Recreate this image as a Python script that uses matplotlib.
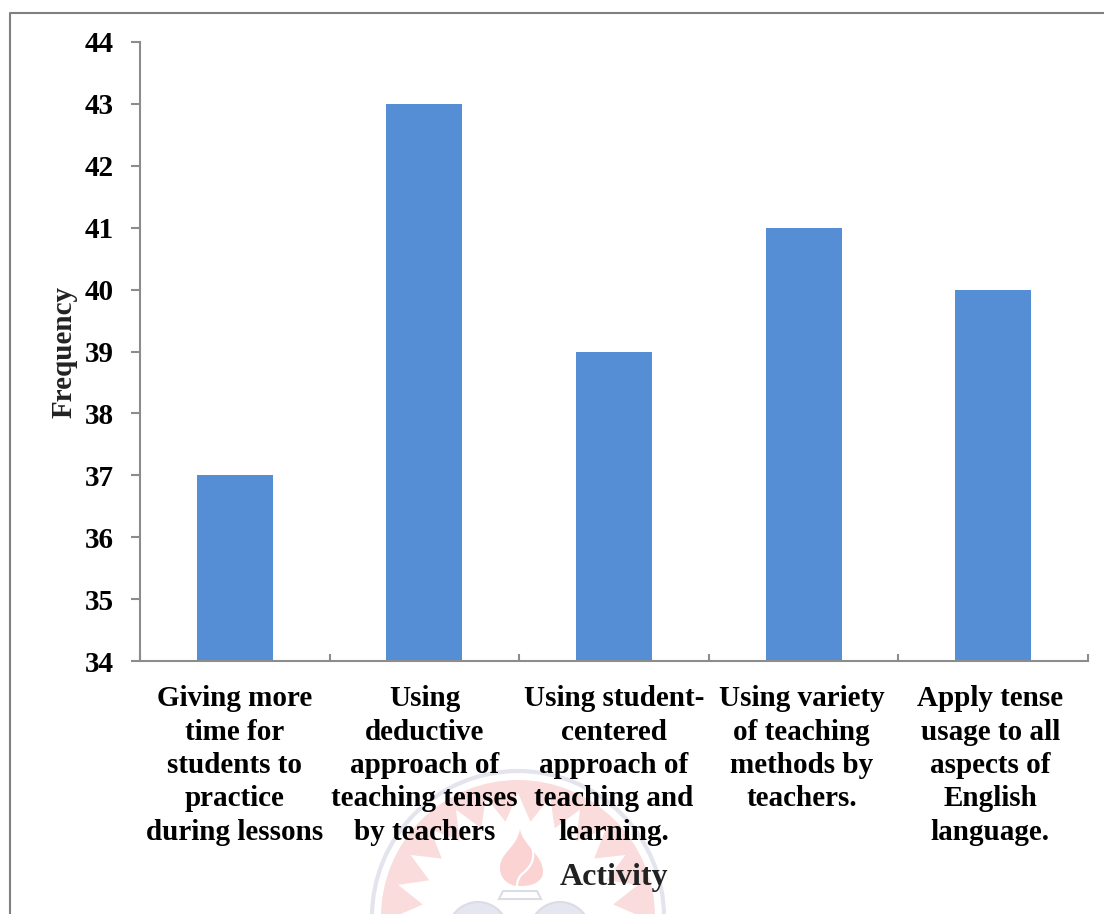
import numpy as np
import matplotlib
matplotlib.use('Agg')
import matplotlib.pyplot as plt
from matplotlib.patches import Circle, Polygon, PathPatch
from matplotlib.path import Path
from matplotlib.transforms import ScaledTranslation

activities = [
    'Giving more\ntime for\nstudents to\npractice\nduring lessons',
    'Using\ndeductive\napproach of\nteaching tenses\nby teachers',
    'Using student-\ncentered\napproach of\nteaching and\nlearning.',
    'Using variety\nof teaching\nmethods by\nteachers.',
    'Apply tense\nusage to all\naspects of\nEnglish\nlanguage.',
]
frequency = [37, 43, 39, 41, 40]
y_ticks = list(range(34, 45))

W, H = 1104, 914
GREY = '#8c8c8c'
BLUE = '#558ed5'

plt.rcParams['font.family'] = ['Liberation Serif', 'DejaVu Serif']
plt.rcParams['font.weight'] = 'bold'

fig = plt.figure(figsize=(W / 100, H / 100), dpi=100)

# background layer in pixel coordinates: page border and the faint seal
bg = fig.add_axes([0, 0, 1, 1], zorder=0)
bg.set_xlim(0, W)
bg.set_ylim(H, 0)
bg.axis('off')
bg.plot([10, 10, W], [H, 13, 13], color='#808080', lw=1.5, solid_capstyle='butt')

cx, cy, r = 518, 917, 146
bg.add_patch(Circle((cx, cy), r, fill=False, ec='#e4e4ee', lw=3))
bg.add_patch(Circle((cx, cy), r - 9, fc='#fbdcdc', ec='none'))

# white sunburst cut out of the pink disc, one spike every 15 degrees
n = 48
ang = np.linspace(0, 2 * np.pi, n, endpoint=False)
rad = np.where(np.arange(n) % 2 == 0, r - 22, r - 50)
star = np.column_stack([cx + rad * np.sin(ang), cy - rad * np.cos(ang)])
bg.add_patch(Polygon(star, closed=True, fc='white', ec='none'))

# flame and its white inner stroke
flame = Path(
    [(520, 829), (522, 845), (544, 855), (543, 873), (542, 882), (532, 886), (522, 886),
     (516, 886), (506, 884), (500, 877), (500, 868), (500, 852), (517, 848), (520, 829)],
    [Path.MOVETO] + [Path.CURVE4] * 6 + [Path.LINETO] + [Path.CURVE4] * 6,
)
bg.add_patch(PathPatch(flame, fc='#fbd3d3', ec='none'))
stroke = Path(
    [(530, 842), (538, 858), (530, 868), (522, 874), (519, 877), (517, 881), (517, 886)],
    [Path.MOVETO] + [Path.CURVE4] * 6,
)
bg.add_patch(PathPatch(stroke, fc='none', ec='white', lw=1.6))

# lamp under the flame
bg.add_patch(Polygon([(503, 891), (537, 891), (541, 899), (499, 899)],
                     closed=True, fc='none', ec='#dcdce6', lw=1.5))
bg.add_patch(Circle((478, 932), 30, fc='#e6e6f0', ec='#dcdce6', lw=1.5))
bg.add_patch(Circle((560, 932), 30, fc='#e6e6f0', ec='#dcdce6', lw=1.5))

# main chart
ax = fig.add_axes([140 / W, 1 - 661 / H, (1088 - 140) / W, (661 - 42) / H], zorder=1)
ax.patch.set_alpha(0)
x = np.arange(len(activities))
ax.bar(x, frequency, width=0.4, color=BLUE, zorder=2)

ax.set_xlim(-0.5, len(activities) - 0.5)
ax.set_ylim(34, 44)
ax.set_yticks(y_ticks)
ax.set_yticklabels(y_ticks, fontsize=21, fontweight='bold')

# ticks sit between the categories, labels under the bar centres
ax.set_xticks(np.arange(len(activities) + 1) - 0.5)
ax.set_xticklabels([])
ax.set_xticks(x, minor=True)
labels = ax.set_xticklabels(activities, minor=True, fontsize=21, fontweight='bold',
                            linespacing=1.30, ha='center', va='top')
ax.tick_params(axis='x', which='minor', length=0, pad=17.5)
ax.tick_params(axis='x', which='major', direction='in', length=5, color=GREY, width=1.5)
ax.tick_params(axis='y', direction='out', length=6.5, color=GREY, width=1.5, pad=12.5)

# the last two labels sit a little left of their bars
for lab, dx in zip(labels, [0, 0, 0, -2, -3]):
    lab.set_transform(lab.get_transform() + ScaledTranslation(dx / 100, 0, fig.dpi_scale_trans))

for side in ['top', 'right']:
    ax.spines[side].set_visible(False)
for side in ['left', 'bottom']:
    ax.spines[side].set_color(GREY)
    ax.spines[side].set_linewidth(1.5)

fig.text(614 / W, 1 - 877 / H, 'Activity', fontsize=23, fontweight='bold',
         color='#222222', ha='center', va='center', zorder=3)
fig.text(64 / W, 1 - 352 / H, 'Frequency', fontsize=21, fontweight='bold',
         color='#222222', rotation=90, ha='center', va='center', zorder=3)

fig.savefig('out.png', dpi=100)
